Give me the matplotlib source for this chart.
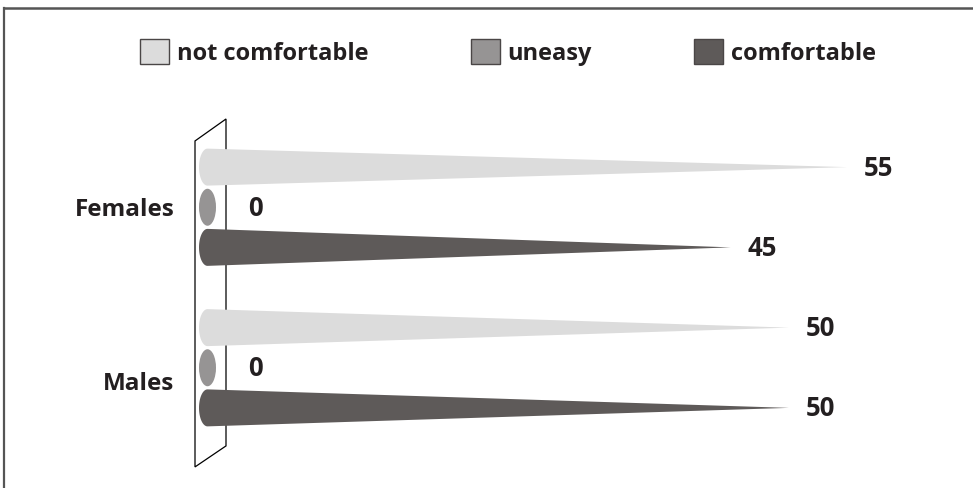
import numpy as np
import matplotlib
matplotlib.use('Agg')
import matplotlib.pyplot as plt
from matplotlib.patches import Polygon, Ellipse, Patch
from matplotlib.lines import Line2D

plt.rcParams['font.family'] = ['Open Sans', 'DejaVu Sans']
plt.rcParams['font.weight'] = 'bold'

# survey answers (percent) per group
groups = ['Females', 'Males']
series = ['not comfortable', 'uneasy', 'comfortable']
not_comfortable = [55, 50]
uneasy = [0, 0]
comfortable = [45, 50]

colors = ['#dcdcdc', '#969494', '#5e5a59']
edge = '#4a4646'
text_col = '#231f20'

W, H = 973, 489
fig = plt.figure(figsize=(W / 100, H / 100), dpi=100)

# plot area: x=0 sits on the cone bases, the longest cone ends at the right edge
x0_px, x1_px = 207.5, 847
y0_px, y1_px = 128, 449
ax = fig.add_axes([x0_px / W, 1 - y1_px / H, (x1_px - x0_px) / W, (y1_px - y0_px) / H])
vmax = max(max(not_comfortable), max(comfortable))
ax.set_xlim(0, vmax)
ax.set_ylim(len(groups) - 0.5, -0.5)
ax.axis('off')

px_x = vmax / (x1_px - x0_px)          # data units per pixel, x
px_y = len(groups) / (y1_px - y0_px)   # data units per pixel, y

offsets = [-0.25, 0.0, 0.25]
a = 8.5 * px_x     # base ellipse semi-axes
b = 18.5 * px_y

# slanted back wall behind the cone bases
wl, wr = -12.5 * px_x, 18.5 * px_x
wall = Polygon([(wl, -0.413), (wr, -0.55), (wr, len(groups) - 1 + 0.487),
                (wl, len(groups) - 1 + 0.618)], closed=True,
               facecolor='white', edgecolor='black', lw=0.9, zorder=1, clip_on=False)
ax.add_patch(wall)


def cone(ax, v, y, color):
    if v <= a:
        ax.add_patch(Ellipse((0, y), 2 * a, 2 * b, facecolor=color, edgecolor='none',
                             zorder=3, clip_on=False))
        return
    t = np.linspace(np.pi / 2, 3 * np.pi / 2, 60)
    pts = np.column_stack([a * np.cos(t), y - b * np.sin(t)])
    pts = np.vstack([pts, [v, y]])
    ax.add_patch(Polygon(pts, closed=True, facecolor=color, edgecolor='none',
                         zorder=3, clip_on=False))


data = [not_comfortable, uneasy, comfortable]
for gi, g in enumerate(groups):
    for si, vals in enumerate(data):
        v = vals[gi]
        y = gi + offsets[si]
        cone(ax, v, y, colors[si])
        dx = 12 if v > 0 else 29
        ax.annotate(f'{v}', xy=(v, y), xytext=(dx, 0), textcoords='offset points',
                    ha='left', va='center', fontsize=18.5, color=text_col,
                    fontweight='bold', annotation_clip=False)
    ax.annotate(g, xy=(0, gi), xytext=(-24, -1 if gi == 0 else -11),
                textcoords='offset points', ha='right', va='center',
                fontsize=17.5, color=text_col, fontweight='bold', annotation_clip=False)

handles = [Patch(facecolor=c, edgecolor=edge, lw=1.0) for c in colors]
fs = 17
em = fs * 100 / 72
fig.legend(handles, series, loc='center', bbox_to_anchor=(508 / W, 1 - 53 / H),
           ncol=3, frameon=False, fontsize=fs, handlelength=29 / em,
           handleheight=30 / em, handletextpad=8 / em, columnspacing=102 / em,
           labelcolor=text_col, prop={'weight': 'bold', 'size': fs})

# frame lines along the top and left edges
fig.add_artist(Line2D([4 / W, 1], [1 - 9 / H, 1 - 9 / H], transform=fig.transFigure,
                      color='#555555', lw=1.8))
fig.add_artist(Line2D([4 / W, 4 / W], [0, 1 - 9 / H], transform=fig.transFigure,
                      color='#555555', lw=1.6))

fig.savefig('out.png', dpi=100, facecolor='white')
